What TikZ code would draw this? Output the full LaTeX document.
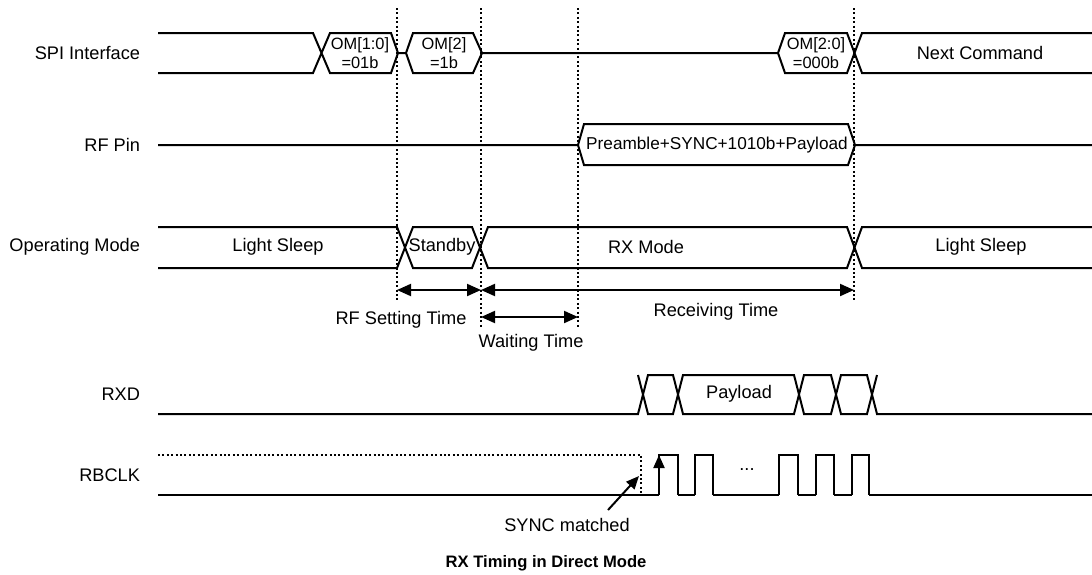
\documentclass[tikz,border=0pt]{standalone}
\usepackage{fontspec}
\setmainfont{Liberation Sans}
\usetikzlibrary{arrows.meta}
\begin{document}
\begin{tikzpicture}[x=.5pt,y=-.5pt,line width=1pt,font=\fontsize{9.1}{11}\selectfont,
    guide/.style={line width=1pt,dash pattern=on 1pt off 1.2pt},
    span/.style={{Triangle[length=7pt,width=6pt]}-{Triangle[length=7pt,width=6pt]}},
    tip/.style={-{Triangle[length=6.5pt,width=5.5pt]}},
    signame/.style={anchor=east,inner sep=0pt},
    field/.style={inner sep=0pt,align=center,font=\fontsize{8.2}{9.5}\selectfont}]
      \useasboundingbox(0,0)rectangle(1092,574);
      % signal names
      \foreach \nm/\y/\txt in{spi/53/SPI Interface, rf/145/RF Pin, mode/247/Operating Mode,
        rxd/394/RXD, rbclk/475/RBCLK}{%
        \node[signame] (\nm) at(141,\y){\txt};
      }
      % timing marks
      \foreach \nm/\x/\y in{ta/397/300, tb/481/328, tc/578/328, td/854/300}{%
        \coordinate (\nm) at(\x,8);
        \draw[guide](\nm)--(\x,\y);
      }
      % SPI Interface
      \draw(158,33)--(313,33)--(330,73)--(391,73)--(398,53)--(391,33)--(330,33)--(313,73)--(158,73);
      \draw(398,53)--(406,53)--(413,33)--(473,33)--(482,53)--(473,73)--(413,73)--(406,53);
      \draw(482,53)--(778,53)--(785,33)--(847,33)--(862,73)--(1092,73)
           (778,53)--(785,73)--(847,73)--(862,33)--(1092,33);
      \node[field] (om1) at(360,53){OM[1:0]\\=01b};
      \node[field] (om2) at(444,53){OM[2]\\=1b};
      \node[field] (om3) at(816,53){OM[2:0]\\=000b};
      \node (next) at(980,53){Next Command};
      % RF Pin
      \draw(158,145)--(578,145)--(584,124)--(848,124)--(855,145)--(1092,145)
           (578,145)--(584,165)--(848,165)--(855,145);
      \node[inner sep=0pt,font=\fontsize{8.6}{10}\selectfont] (packet) at(717,145){Preamble+SYNC+1010b+Payload};
      % Operating Mode
      \draw(158,227)--(397,227)--(413,268)--(472,268)--(488,227)--(847,227)--(862,268)--(1092,268)
           (158,268)--(397,268)--(413,227)--(472,227)--(488,268)--(847,268)--(862,227)--(1092,227);
      \foreach \nm/\x/\txt in{sleepa/278/Light Sleep, stby/442/Standby, rxmode/646/RX Mode, sleepb/981/Light Sleep}{%
        \node (\nm) at(\x,247){\txt};
      }
      % time spans
      \draw[span](ta|-0,290)--(tb|-0,290);
      \draw[span](tb|-0,290)--(td|-0,290);
      \draw[span](tb|-0,317)--(tc|-0,317);
      \node (setting) at(401,320){RF Setting Time};
      \node (receiving) at(716,312){Receiving Time};
      \node (waiting) at(531,343){Waiting Time};
      % RXD
      \draw(158,414)--(638,414)--(648,375)--(673,375)--(683,414)--(794,414)--(804,375)--(831,375)--(841,414)--(867,414)--(877,375)
           (638,375)--(648,414)--(673,414)--(683,375)--(794,375)--(804,414)--(831,414)--(841,375)--(867,375)--(877,414)--(1092,414);
      \node (payload) at(739,394){Payload};
      % RBCLK
      \draw[guide](158,455)--(641,455)--(641,495);
      \draw(158,495)--(659,495)
           (678,495)--(695,495) (713,495)--(779,495) (798,495)--(816,495)
           (834,495)--(852,495) (869,495)--(1092,495);
      \foreach \r/\f in{659/678, 695/713, 779/798, 816/834, 852/869}{%
        \draw(\r,495)--(\r,455)--(\f,455)--(\f,495);
      }
      \draw[tip](659,495)--(659,455);
      \node (dots) at(747,470){...};
      \node (sync) at(567,525){SYNC matched};
      \coordinate (from) at(608,510);
      \coordinate (hit) at(639,476);
      \draw[tip](from)--(hit);
      \node[font=\bfseries\fontsize{8.3}{10}\selectfont] (title) at(546,563){RX Timing in Direct Mode};
\end{tikzpicture}
\end{document}
